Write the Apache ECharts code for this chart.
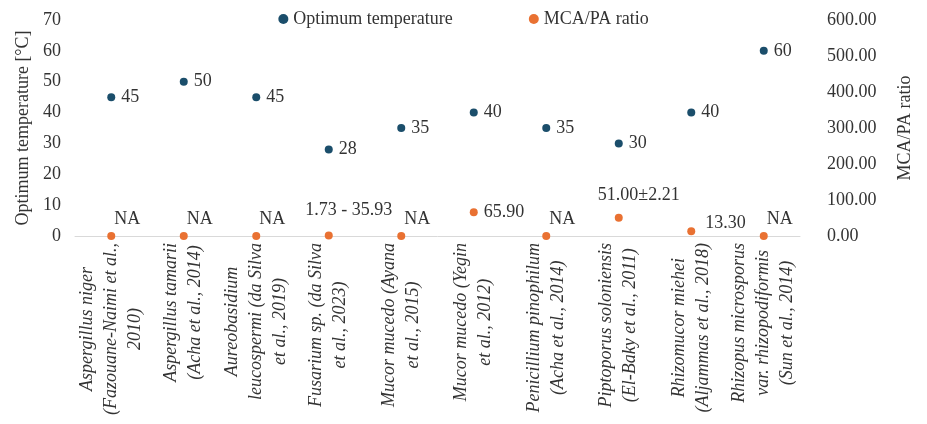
<!DOCTYPE html>
<html>
<head>
<meta charset="utf-8">
<script src="https://cdn.jsdelivr.net/npm/echarts@6/dist/echarts.min.js"></script>
<style>
  html, body { margin: 0; padding: 0; background: #fff; }
  #chart { width: 927px; height: 424px; }
</style>
</head>
<body>
<div id="chart"></div>
<script>
// categories (species + reference)
var categories = [
    "Aspergillus niger\n(Fazouane-Naimi et al.,\n2010)",
    "Aspergillus tamarii\n(Acha et al., 2014)",
    "Aureobasidium\nleucospermi (da Silva\net al., 2019)",
    "Fusarium sp. (da Silva\net al., 2023)",
    "Mucor mucedo (Ayana\net al., 2015)",
    "Mucor mucedo (Yegin\net al., 2012)",
    "Penicillium pinophilum\n(Acha et al., 2014)",
    "Piptoporus soloniensis\n(El-Baky et al., 2011)",
    "Rhizomucor miehei\n(Aljammas et al., 2018)",
    "Rhizopus microsporus\nvar. rhizopodiformis\n(Sun et al., 2014)"
];
var optimumTemp = [45, 50, 45, 28, 35, 40, 35, 30, 40, 60];
var mcaPaRatio = [0, 0, 0, 1.73, 0, 65.90, 0, 51.00, 13.30, 0];
var mcaPaLabels = ["NA", "NA", "NA", "1.73 - 35.93", "NA", "65.90", "NA", "51.00±2.21", "13.30", "NA"];
// label placement for each ratio point
var mcaPaLabelPos = ["na", "na", "na", "top", "na", "right", "na", "top", "right", "na"];
var leftTicks = [0, 10, 20, 30, 40, 50, 60, 70];
var rightTicks = [0, 100, 200, 300, 400, 500, 600];

var FONT = "Liberation Serif";
var TXT = "#333333";

var chart = echarts.init(document.getElementById("chart"));

// 比值点的标签：NA 在右上，区间/误差在上方，数值在右侧
var ratioData = mcaPaRatio.map(function(v, i) {
    var pos = mcaPaLabelPos[i];
    var lab = {};
    if (pos === "na") {
        lab = { position: "top", distance: 4, offset: [16, 0] };
    } else if (pos === "top") {
        lab = { position: "top", distance: 4, offset: [20, i === 7 ? -5 : -8] };
    } else {
        lab = { position: "right", distance: i === 8 ? 10 : 6, offset: [0, i === 8 ? -8 : 0] };
    }
    return { value: v, label: lab };
});

chart.setOption({
    animation: false,
    textStyle: { fontFamily: FONT },
    legend: {
        top: 5,
        left: "center",
        itemGap: 76,
        itemWidth: 10,
        itemHeight: 10,
        icon: "circle",
        textStyle: { fontFamily: FONT, fontSize: 18, color: TXT },
        data: ["Optimum temperature", "MCA/PA ratio"]
    },
    grid: { left: 75, right: 127, top: 20, bottom: 188 },
    xAxis: {
        type: "category",
        data: categories,
        axisLine: { show: true, lineStyle: { color: "#d9d9d9", width: 1 } },
        axisTick: { show: false },
        axisLabel: {
            rotate: 90,
            interval: 0,
            margin: 7,
            formatter: function(v) { return "{a|" + v + "}"; },
            rich: {
                a: {
                    align: "center",
                    fontFamily: FONT,
                    fontStyle: "italic",
                    fontSize: 18,
                    lineHeight: 24,
                    color: TXT
                }
            }
        }
    },
    yAxis: [
        {
            type: "value",
            min: 0,
            max: 70,
            interval: 10,
            name: "Optimum temperature [°C]",
            nameLocation: "middle",
            nameGap: 42,
            nameTextStyle: { fontFamily: FONT, fontSize: 18, color: TXT },
            axisLine: { show: false },
            axisTick: { show: false },
            splitLine: { show: false },
            axisLabel: {
                margin: 14,
                fontFamily: FONT,
                fontSize: 18,
                color: TXT,
                formatter: function(v) { return leftTicks.indexOf(v) >= 0 ? String(v) : ""; }
            }
        },
        {
            type: "value",
            min: 0,
            max: 600,
            interval: 100,
            name: "MCA/PA ratio",
            nameLocation: "middle",
            nameGap: 96,
            nameRotate: 90,
            nameTextStyle: { fontFamily: FONT, fontSize: 18, color: TXT },
            axisLine: { show: false },
            axisTick: { show: false },
            splitLine: { show: false },
            axisLabel: {
                margin: 27,
                fontFamily: FONT,
                fontSize: 18,
                color: TXT,
                formatter: function(v) { return rightTicks.indexOf(v) >= 0 ? v.toFixed(2) : ""; }
            }
        }
    ],
    series: [
        {
            name: "Optimum temperature",
            type: "scatter",
            yAxisIndex: 0,
            symbolSize: 8,
            itemStyle: { color: "#1b4e6b", opacity: 1 },
            label: {
                show: true,
                position: "right",
                distance: 6,
                fontFamily: FONT,
                fontSize: 18,
                color: TXT
            },
            data: optimumTemp
        },
        {
            name: "MCA/PA ratio",
            type: "scatter",
            yAxisIndex: 1,
            symbolSize: 8,
            itemStyle: { color: "#e97132", opacity: 1 },
            label: {
                show: true,
                fontFamily: FONT,
                fontSize: 18,
                color: TXT,
                formatter: function(p) { return mcaPaLabels[p.dataIndex]; }
            },
            data: ratioData
        }
    ]
});
</script>
</body>
</html>
